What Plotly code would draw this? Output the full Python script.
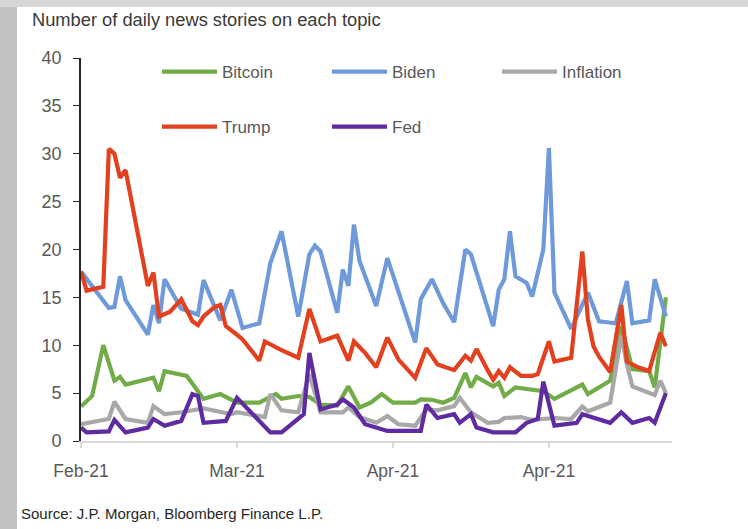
import plotly.graph_objects as go

tick_days = [0, 28, 56, 84]
tick_labels = ["Feb-21", "Mar-21", "Apr-21", "Apr-21"]

bitcoin_days = [0, 2, 4, 6, 7, 8, 13, 14, 15, 19, 22, 25, 28, 32, 35, 36, 39, 41, 43, 46, 48, 50, 52, 54,
                56, 60, 61, 63, 65, 67, 69, 70, 71, 74, 75, 76, 78, 82, 83, 85, 90, 91, 95, 97, 99, 102, 103, 105]
bitcoin_vals = [3.6, 4.7, 10.0, 6.3, 6.7, 5.9, 6.6, 5.2, 7.3, 6.8, 4.4, 4.9, 4.0, 4.0, 4.9, 4.4, 4.7, 4.6,
                3.8, 3.7, 5.7, 3.5, 4.0, 4.9, 4.0, 4.0, 4.35, 4.3, 4.0, 4.5, 7.1, 5.6, 6.7, 5.7, 6.1, 4.7,
                5.6, 5.2, 5.2, 4.4, 5.9, 4.9, 6.3, 12.0, 7.5, 7.3, 5.6, 15.0]

biden_days = [0, 5, 6, 7, 8, 12, 13, 14, 15, 18, 21, 22, 25, 27, 29, 32, 34, 36, 39, 41, 42, 43, 46, 47, 48,
              49, 50, 53, 55, 60, 61, 63, 65, 67, 69, 70, 74, 75, 76, 77, 78, 80, 81, 83, 84, 85, 88, 91, 93,
              96, 98, 99, 102, 103, 105]
biden_vals = [17.7, 13.9, 14.0, 17.2, 14.7, 11.1, 14.2, 12.3, 16.9, 13.8, 13.2, 16.8, 12.6, 15.8, 11.8,
              12.3, 18.6, 21.9, 13.0, 19.5, 20.4, 19.8, 13.4, 17.9, 16.2, 22.6, 18.8, 14.1, 19.1, 10.3,
              14.8, 16.9, 14.4, 12.4, 20.0, 19.5, 12.0, 15.8, 16.9, 21.9, 17.2, 16.5, 15.1, 20.0, 30.6,
              15.5, 11.7, 15.5, 12.5, 12.3, 16.7, 12.3, 12.6, 16.9, 13.0]

inflation_days = [0, 5, 6, 8, 12, 13, 15, 18, 22, 27, 28, 33, 34, 36, 39, 41, 43, 47, 48, 50, 53, 55, 57,
                  60, 62, 64, 67, 68, 70, 73, 75, 76, 79, 81, 85, 88, 90, 91, 95, 96, 97, 98, 99, 103, 104, 105]
inflation_vals = [1.75, 2.3, 4.1, 2.3, 1.9, 3.65, 2.8, 3.0, 3.4, 2.8, 3.0, 2.5, 4.9, 3.2, 3.0, 7.0, 3.0,
                  3.0, 3.5, 2.5, 1.9, 2.6, 1.75, 1.6, 3.3, 3.2, 3.65, 4.5, 3.0, 1.9, 2.0, 2.4, 2.5, 2.2,
                  2.4, 2.3, 3.6, 3.1, 4.0, 7.5, 11.0, 8.0, 5.7, 4.8, 6.3, 5.0]

trump_days = [0, 1, 4, 5, 6, 7, 8, 12, 13, 14, 16, 18, 20, 21, 22, 24, 25, 26, 28, 29, 32, 33, 36, 39, 41,
              43, 46, 48, 49, 51, 53, 55, 57, 60, 62, 64, 67, 69, 70, 71, 73, 74, 75, 76, 77, 79, 81, 82,
              84, 85, 88, 90, 91, 92, 93, 94, 95, 97, 98, 100, 102, 104, 105]
trump_vals = [17.7, 15.7, 16.1, 30.5, 30.0, 27.5, 28.3, 16.2, 17.6, 13.0, 13.5, 14.8, 12.5, 12.1, 13.0,
              14.0, 14.2, 12.0, 11.1, 10.6, 8.4, 10.4, 9.5, 8.7, 13.8, 10.4, 11.0, 8.4, 10.4, 9.2, 7.7,
              10.8, 8.5, 6.6, 9.7, 8.0, 7.4, 8.9, 8.4, 9.6, 7.4, 6.4, 7.3, 6.6, 7.7, 6.8, 6.8, 7.0, 10.4,
              8.3, 8.7, 19.8, 12.7, 9.9, 8.8, 8.0, 7.2, 14.2, 8.3, 7.7, 7.3, 11.3, 9.9]

fed_days = [0, 1, 5, 6, 8, 12, 13, 15, 18, 20, 21, 22, 26, 28, 34, 36, 40, 41, 43, 46, 47, 49, 51, 53, 55,
            61, 62, 64, 67, 68, 70, 71, 74, 78, 80, 82, 83, 85, 89, 90, 95, 97, 99, 102, 103, 105]
fed_vals = [1.4, 0.9, 1.0, 2.2, 0.9, 1.4, 2.3, 1.6, 2.1, 4.9, 4.7, 1.9, 2.1, 4.5, 0.9, 0.9, 2.8, 9.2, 3.3,
            3.8, 4.35, 3.5, 1.75, 1.4, 1.05, 1.05, 3.8, 2.4, 2.8, 1.9, 2.8, 1.4, 0.9, 0.9, 1.9, 2.3, 6.2,
            1.6, 1.9, 2.8, 1.9, 3.0, 1.9, 2.4, 1.9, 5.0]

series = [
    ("Bitcoin", bitcoin_days, bitcoin_vals, "#72AC48", "legend"),
    ("Biden", biden_days, biden_vals, "#6E99DA", "legend"),
    ("Inflation", inflation_days, inflation_vals, "#A8A8A8", "legend"),
    ("Trump", trump_days, trump_vals, "#E2401F", "legend2"),
    ("Fed", fed_days, fed_vals, "#5E2CA0", "legend2"),
]

FONT = "Liberation Sans, Arial, sans-serif"

fig = go.Figure()
for name, xs, ys, col, lg in series:
    fig.add_trace(go.Scatter(x=xs, y=ys, name=name, mode="lines",
                             line=dict(color=col, width=4.2), legend=lg))

W, H = 748, 529
L, R, T, B = 81, 76, 58, 88
pw, ph = W - L - R, H - T - B


def px(x):
    return (x - L) / pw


def py(y):
    return (H - B - y) / ph


legend_common = dict(orientation="h", xanchor="left", yanchor="middle",
                     entrywidth=100, itemwidth=55,
                     font=dict(size=17, color="#595959"),
                     bgcolor="rgba(0,0,0,0)", traceorder="normal")

fig.update_layout(
    width=W, height=H,
    margin=dict(l=L, r=R, t=T, b=B),
    paper_bgcolor="white", plot_bgcolor="white",
    font=dict(family=FONT, color="#595959", size=17),
    showlegend=True,
    legend=dict(x=px(157), y=py(72), **legend_common),
    legend2=dict(x=px(157), y=py(127), **legend_common),
    xaxis=dict(range=[0, 106.1], tickvals=tick_days, ticktext=tick_labels,
               showgrid=False, zeroline=False, showline=True, linecolor="#D9D9D9", linewidth=1.5,
               ticks="outside", ticklen=5, tickcolor="#D9D9D9", tickwidth=1.5,
               ticklabelstandoff=8, tickfont=dict(size=17.5, color="#595959")),
    yaxis=dict(range=[0, 40], tickvals=[0, 5, 10, 15, 20, 25, 30, 35, 40],
               showgrid=False, zeroline=False, showline=True, linecolor="#262626", linewidth=1.6,
               ticks="outside", ticklen=6, tickcolor="#262626", tickwidth=1.2,
               ticklabelstandoff=8, tickfont=dict(size=18, color="#595959")),
    annotations=[
        dict(text="Number of daily news stories on each topic", xref="paper", yref="paper",
             x=px(30), y=py(19), xanchor="left", yanchor="middle", showarrow=False,
             font=dict(size=18.3, color="#3A3A3A", family=FONT)),
        dict(text="Source: J.P. Morgan, Bloomberg Finance L.P.", xref="paper", yref="paper",
             x=px(19), y=py(513), xanchor="left", yanchor="middle", showarrow=False,
             font=dict(size=15, color="#262626", family=FONT)),
    ],
    shapes=[
        dict(type="rect", xref="paper", yref="paper", x0=px(0), x1=px(17), y0=py(H), y1=py(0),
             fillcolor="#C2C2C2", line=dict(width=0), layer="below"),
        dict(type="rect", xref="paper", yref="paper", x0=px(0), x1=px(W), y0=py(7), y1=py(0),
             fillcolor="#D6D6D6", line=dict(width=0), layer="below"),
    ],
)

fig.write_html("out.html")
